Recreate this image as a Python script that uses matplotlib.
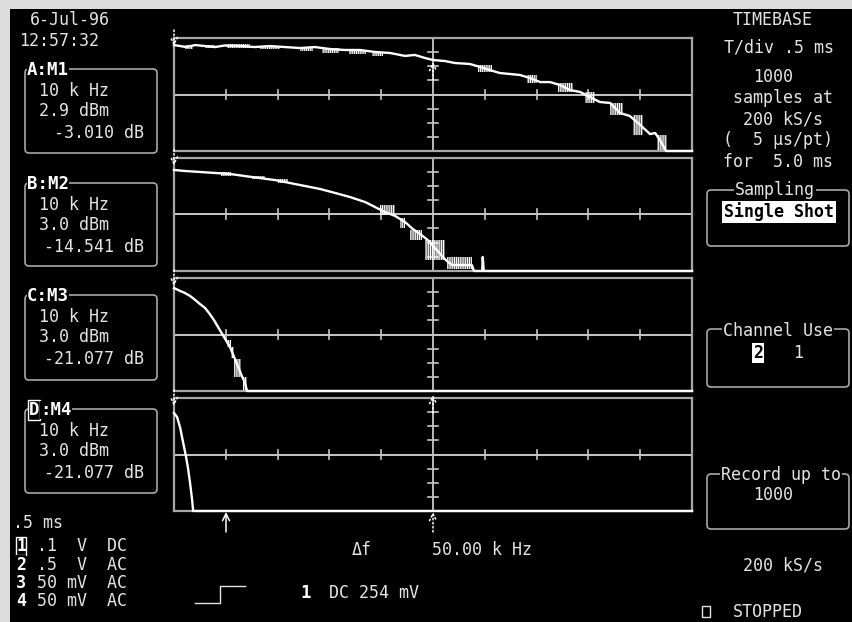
import matplotlib
matplotlib.use("Agg")
import numpy as np
from matplotlib import pyplot as plt
from matplotlib.patches import Rectangle, FancyBboxPatch

# ---- data (x in horizontal divisions 0..10, y in vertical divisions 0..8) ----
trace_a_x = [0, 0.12, 0.23, 0.41, 0.6, 0.79, 0.98, 1.27, 1.56, 1.85, 2.14, 2.43, 2.72, 3.01, 3.3,
             3.59, 3.88, 4.17, 4.46, 4.65, 4.85, 5.0, 5.23, 5.42, 5.71, 5.91, 6.1, 6.29, 6.49,
             6.68, 6.87, 7.07, 7.26, 7.45, 7.64, 7.84, 8.03, 8.22, 8.42, 8.61, 8.8, 9.0, 9.19,
             9.29, 9.38, 9.5, 10]
trace_a_y = [7.5, 7.43, 7.36, 7.5, 7.43, 7.36, 7.47, 7.43, 7.36, 7.43, 7.36, 7.29, 7.36, 7.22, 7.15,
             7.15, 7.01, 6.94, 6.73, 6.8, 6.58, 6.44, 6.37, 6.23, 6.16, 5.95, 5.73, 5.52, 5.45,
             5.38, 5.17, 4.88, 4.88, 4.67, 4.32, 4.18, 3.82, 3.47, 3.4, 2.69, 2.48, 1.84, 1.2,
             1.27, 0.78, 0, 0]
trace_b_x = [0, 0.21, 0.5, 0.79, 1.08, 1.37, 1.66, 1.95, 2.24, 2.53, 2.82, 3.11, 3.4, 3.69, 3.88,
             4.07, 4.27, 4.46, 4.61, 4.75, 4.9, 5.04, 5.17, 5.29, 5.37, 5.75, 5.79, 5.95, 5.96,
             5.98, 10]
trace_b_y = [7.12, 7.05, 6.98, 6.91, 6.84, 6.69, 6.55, 6.41, 6.2, 5.99, 5.78, 5.5, 5.21, 4.86, 4.51,
             4.16, 3.88, 3.45, 2.96, 2.61, 2.18, 1.62, 1.06, 0.63, 0.42, 0.42, 0, 0, 0.99,
             0, 0]
trace_c_x = [0, 0.12, 0.21, 0.31, 0.41, 0.5, 0.6, 0.69, 0.77, 0.85, 0.93, 1.0, 1.08, 1.16, 1.24,
             1.31, 1.37, 1.41, 10]
trace_c_y = [7.29, 7.08, 6.94, 6.73, 6.44, 6.16, 5.88, 5.45, 5.03, 4.53, 4.04, 3.61, 3.12, 2.41, 1.7,
             1.06, 0.57, 0, 0]
trace_d_x = [0, 0.06, 0.12, 0.17, 0.23, 0.27, 0.31, 0.35, 0.37, 10]
trace_d_y = [6.94, 6.65, 5.88, 4.96, 3.89, 3.04, 1.98, 0.78, 0, 0]

# noisy (hatched) stretches: x0, x1, y0, y1
noise_a = [(0.21, 0.37, 7.25, 7.5), (0.6, 0.79, 7.3, 7.5), (1.03, 1.47, 7.3, 7.55),
           (1.66, 2.05, 7.2, 7.45), (2.43, 2.68, 7.05, 7.3), (2.86, 3.19, 6.95, 7.3),
           (3.38, 3.71, 6.85, 7.15), (3.82, 4.03, 6.75, 7.0),
           (5.87, 6.14, 5.6, 6.09), (6.81, 7.0, 4.8, 5.4), (7.41, 7.7, 4.17, 4.8),
           (7.93, 8.13, 3.4, 4.17), (8.42, 8.67, 2.55, 3.4), (8.86, 9.05, 1.13, 2.55),
           (9.32, 9.52, 0.07, 1.13)]
noise_b = [(0.9, 1.1, 6.7, 6.95), (1.5, 1.75, 6.45, 6.7), (2.0, 2.2, 6.2, 6.45),
           (3.98, 4.27, 3.95, 4.65), (4.36, 4.46, 3.03, 3.73), (4.56, 4.79, 2.18, 2.89),
           (4.85, 5.23, 0.78, 2.18), (5.27, 5.75, 0.14, 0.99)]
noise_c = [(1.02, 1.1, 3.1, 3.6), (1.1, 1.16, 2.34, 3.1), (1.16, 1.29, 1.0, 2.27),
           (1.33, 1.41, 0.07, 1.0)]
noise_d = []

traces = [(trace_a_x, trace_a_y, noise_a), (trace_b_x, trace_b_y, noise_b),
          (trace_c_x, trace_c_y, noise_c), (trace_d_x, trace_d_y, noise_d)]

meas_trace = ["A", "B", "C", "D"]
meas_mem = ["M1", "M2", "M3", "M4"]
meas_freq = ["10 k Hz"] * 4
meas_level = ["2.9", "3.0", "3.0", "3.0"]
meas_db = ["-3.010", "-14.541", "-21.077", "-21.077"]

ch_num = ["1", "2", "3", "4"]
ch_scale = [".1", ".5", "50", "50"]
ch_unit = ["V", "V", "mV", "mV"]
ch_coupling = ["DC", "AC", "AC", "AC"]

# ---- layout (screen pixels) ----
W, H = 852, 622
panel_left, panel_right = 174, 692
panel_tops = [38, 157.5, 278, 398]
panel_bottoms = [151, 271, 391, 511]
box_tops = [69, 183, 295, 409]
box_bottoms = [153, 266, 380, 493]

TXT = "#e4e4e4"
EDGE = "#a8a8a8"
MONO = ["DejaVu Sans Mono"]
FS = 12

plt.rcParams["hatch.linewidth"] = 0.9

fig = plt.figure(figsize=(W / 100, H / 100), dpi=100, facecolor="#dcdcdc")

bg = fig.add_axes([0, 0, 1, 1], zorder=0)
bg.set_xlim(0, W)
bg.set_ylim(H, 0)
bg.axis("off")
bg.add_patch(Rectangle((10, 9), W - 10, H - 9, facecolor="black", edgecolor="none"))

for (tx, ty, noise), top, bot in zip(traces, panel_tops, panel_bottoms):
    ax = fig.add_axes([panel_left / W, 1 - bot / H, (panel_right - panel_left) / W, (bot - top) / H],
                      zorder=1)
    ax.set_facecolor("black")
    ax.set_xlim(0, 10)
    ax.set_ylim(0, 8)
    ax.set_xticks([])
    ax.set_yticks([])
    for sp in ax.spines.values():
        sp.set_color(EDGE)
        sp.set_linewidth(1.6)
    ax.axhline(4, color="#d8d8d8", lw=1.3)
    ax.axvline(5, color="#c8c8c8", lw=1.3)
    for k in [1, 2, 3, 4, 6, 7, 8, 9]:
        ax.plot([k, k], [3.65, 4.35], color="#c8c8c8", lw=1.2)
    for k in [1, 2, 3, 5, 6, 7]:
        ax.plot([4.91, 5.09], [k, k], color="#c8c8c8", lw=1.2)
    for x0, x1, y0, y1 in noise:
        ax.add_patch(Rectangle((x0, y0), x1 - x0, y1 - y0, fill=False, hatch="|||||||||",
                               edgecolor="white", linewidth=0, zorder=3))
    ax.plot(tx, ty, color="white", lw=1.7, clip_on=False, zorder=4)

ov = fig.add_axes([0, 0, 1, 1], zorder=2)
ov.set_xlim(0, W)
ov.set_ylim(H, 0)
ov.axis("off")
ov.patch.set_alpha(0)


def txt(x, y, s, ha="left", **kw):
    kw.setdefault("fontsize", FS)
    kw.setdefault("color", TXT)
    ov.text(x, y, s, ha=ha, va="center", family=MONO, **kw)


def rbox(x0, y0, x1, y1):
    ov.add_patch(FancyBboxPatch((x0, y0), x1 - x0, y1 - y0,
                                boxstyle="round,pad=0,rounding_size=4",
                                fill=False, edgecolor=EDGE, lw=1.2))


def arrow(x, tip, tail, dotted=False):
    ov.annotate("", xy=(x, tip), xytext=(x, tail),
                arrowprops=dict(arrowstyle="->,head_length=0.5,head_width=0.25", color="white",
                                lw=1.1, linestyle=":" if dotted else "-", shrinkA=0, shrinkB=0))


txt(30, 20, "6-Jul-96")
txt(19, 41, "12:57:32")

for i in range(4):
    rbox(25, box_tops[i], 157, box_bottoms[i])
    t0 = box_tops[i]
    if i == 3:
        ov.text(29, t0 + 1, meas_trace[i], ha="left", va="center", family=MONO, fontsize=12.5,
                fontweight="bold", color="white",
                bbox=dict(facecolor="black", edgecolor="white", pad=0.4, lw=1))
        ov.text(40, t0 + 1, ":" + meas_mem[i], ha="left", va="center", family=MONO, fontsize=12.5,
                fontweight="bold", color="white",
                bbox=dict(facecolor="black", edgecolor="none", pad=0.2))
    else:
        ov.text(27, t0 + 1, meas_trace[i] + ":" + meas_mem[i], ha="left", va="center",
                family=MONO, fontsize=12.5, fontweight="bold", color="white",
                bbox=dict(facecolor="black", edgecolor="none", pad=0.2))
    txt(39, t0 + 22, meas_freq[i])
    txt(39, t0 + 42, meas_level[i] + " dBm")
    txt(144, t0 + 64, meas_db[i] + " dB", ha="right")

txt(13, 523, ".5 ms")
for i in range(4):
    y = 546 + i * 18.5
    ov.text(16, y, ch_num[i], ha="left", va="center", family=MONO, fontsize=12, fontweight="bold",
            color="white",
            bbox=dict(facecolor="black", edgecolor="white" if i == 0 else "none", pad=0.3, lw=1))
    txt(37, y, f"{ch_scale[i]:<3}{ch_unit[i]:>2}  {ch_coupling[i]}")

# right column
txt(773, 20, "TIMEBASE", ha="center")
txt(779, 48, "T/div .5 ms", ha="center")
txt(773, 77, "1000", ha="center")
txt(783, 98, "samples at", ha="center")
txt(783, 119, "200 kS/s", ha="center")
txt(778, 140, "(  5 \u00b5s/pt)", ha="center")
txt(778, 162, "for  5.0 ms", ha="center")

rbox(707, 190, 849, 246)
txt(775, 190, "Sampling", ha="center", bbox=dict(facecolor="black", edgecolor="none", pad=0.5))
ov.text(779, 212, "Single Shot", ha="center", va="center", family=MONO, fontsize=FS,
        fontweight="bold", color="black", bbox=dict(facecolor="white", edgecolor="none", pad=1.2))

rbox(707, 329, 849, 387)
txt(778, 331, "Channel Use", ha="center", bbox=dict(facecolor="black", edgecolor="none", pad=0.5))
ov.text(758, 353, "2", ha="center", va="center", family=MONO, fontsize=FS, fontweight="bold",
        color="black", bbox=dict(facecolor="white", edgecolor="none", pad=0.6))
txt(798, 353, "1", ha="center")

rbox(707, 474, 849, 529)
txt(781, 475, "Record up to", ha="center", bbox=dict(facecolor="black", edgecolor="none", pad=0.5))
txt(773, 495, "1000", ha="center")

txt(783, 565, "200 kS/s", ha="center")
ov.add_patch(Rectangle((702, 606), 8, 11, fill=False, edgecolor=TXT, lw=1))
txt(733, 612, "STOPPED")

# bottom readouts
txt(352, 550, "\u0394f")
txt(432, 550, "50.00 k Hz")
ov.plot([195, 220, 220, 245], [603, 603, 586, 586], color=TXT, lw=1)
ov.text(300, 593, "1", ha="left", va="center", family=MONO, fontsize=12.5, fontweight="bold",
        color="white")
txt(329, 593, "DC 254 mV")

# cursor / trigger markers
for top in panel_tops:
    arrow(174, top + 8, top - 8, dotted=True)
arrow(433, 62, 80, dotted=True)
arrow(433, 395, 413, dotted=True)
arrow(226, 512, 532)
arrow(433, 512, 532, dotted=True)

fig.savefig("out.png", dpi=100, facecolor=fig.get_facecolor())
